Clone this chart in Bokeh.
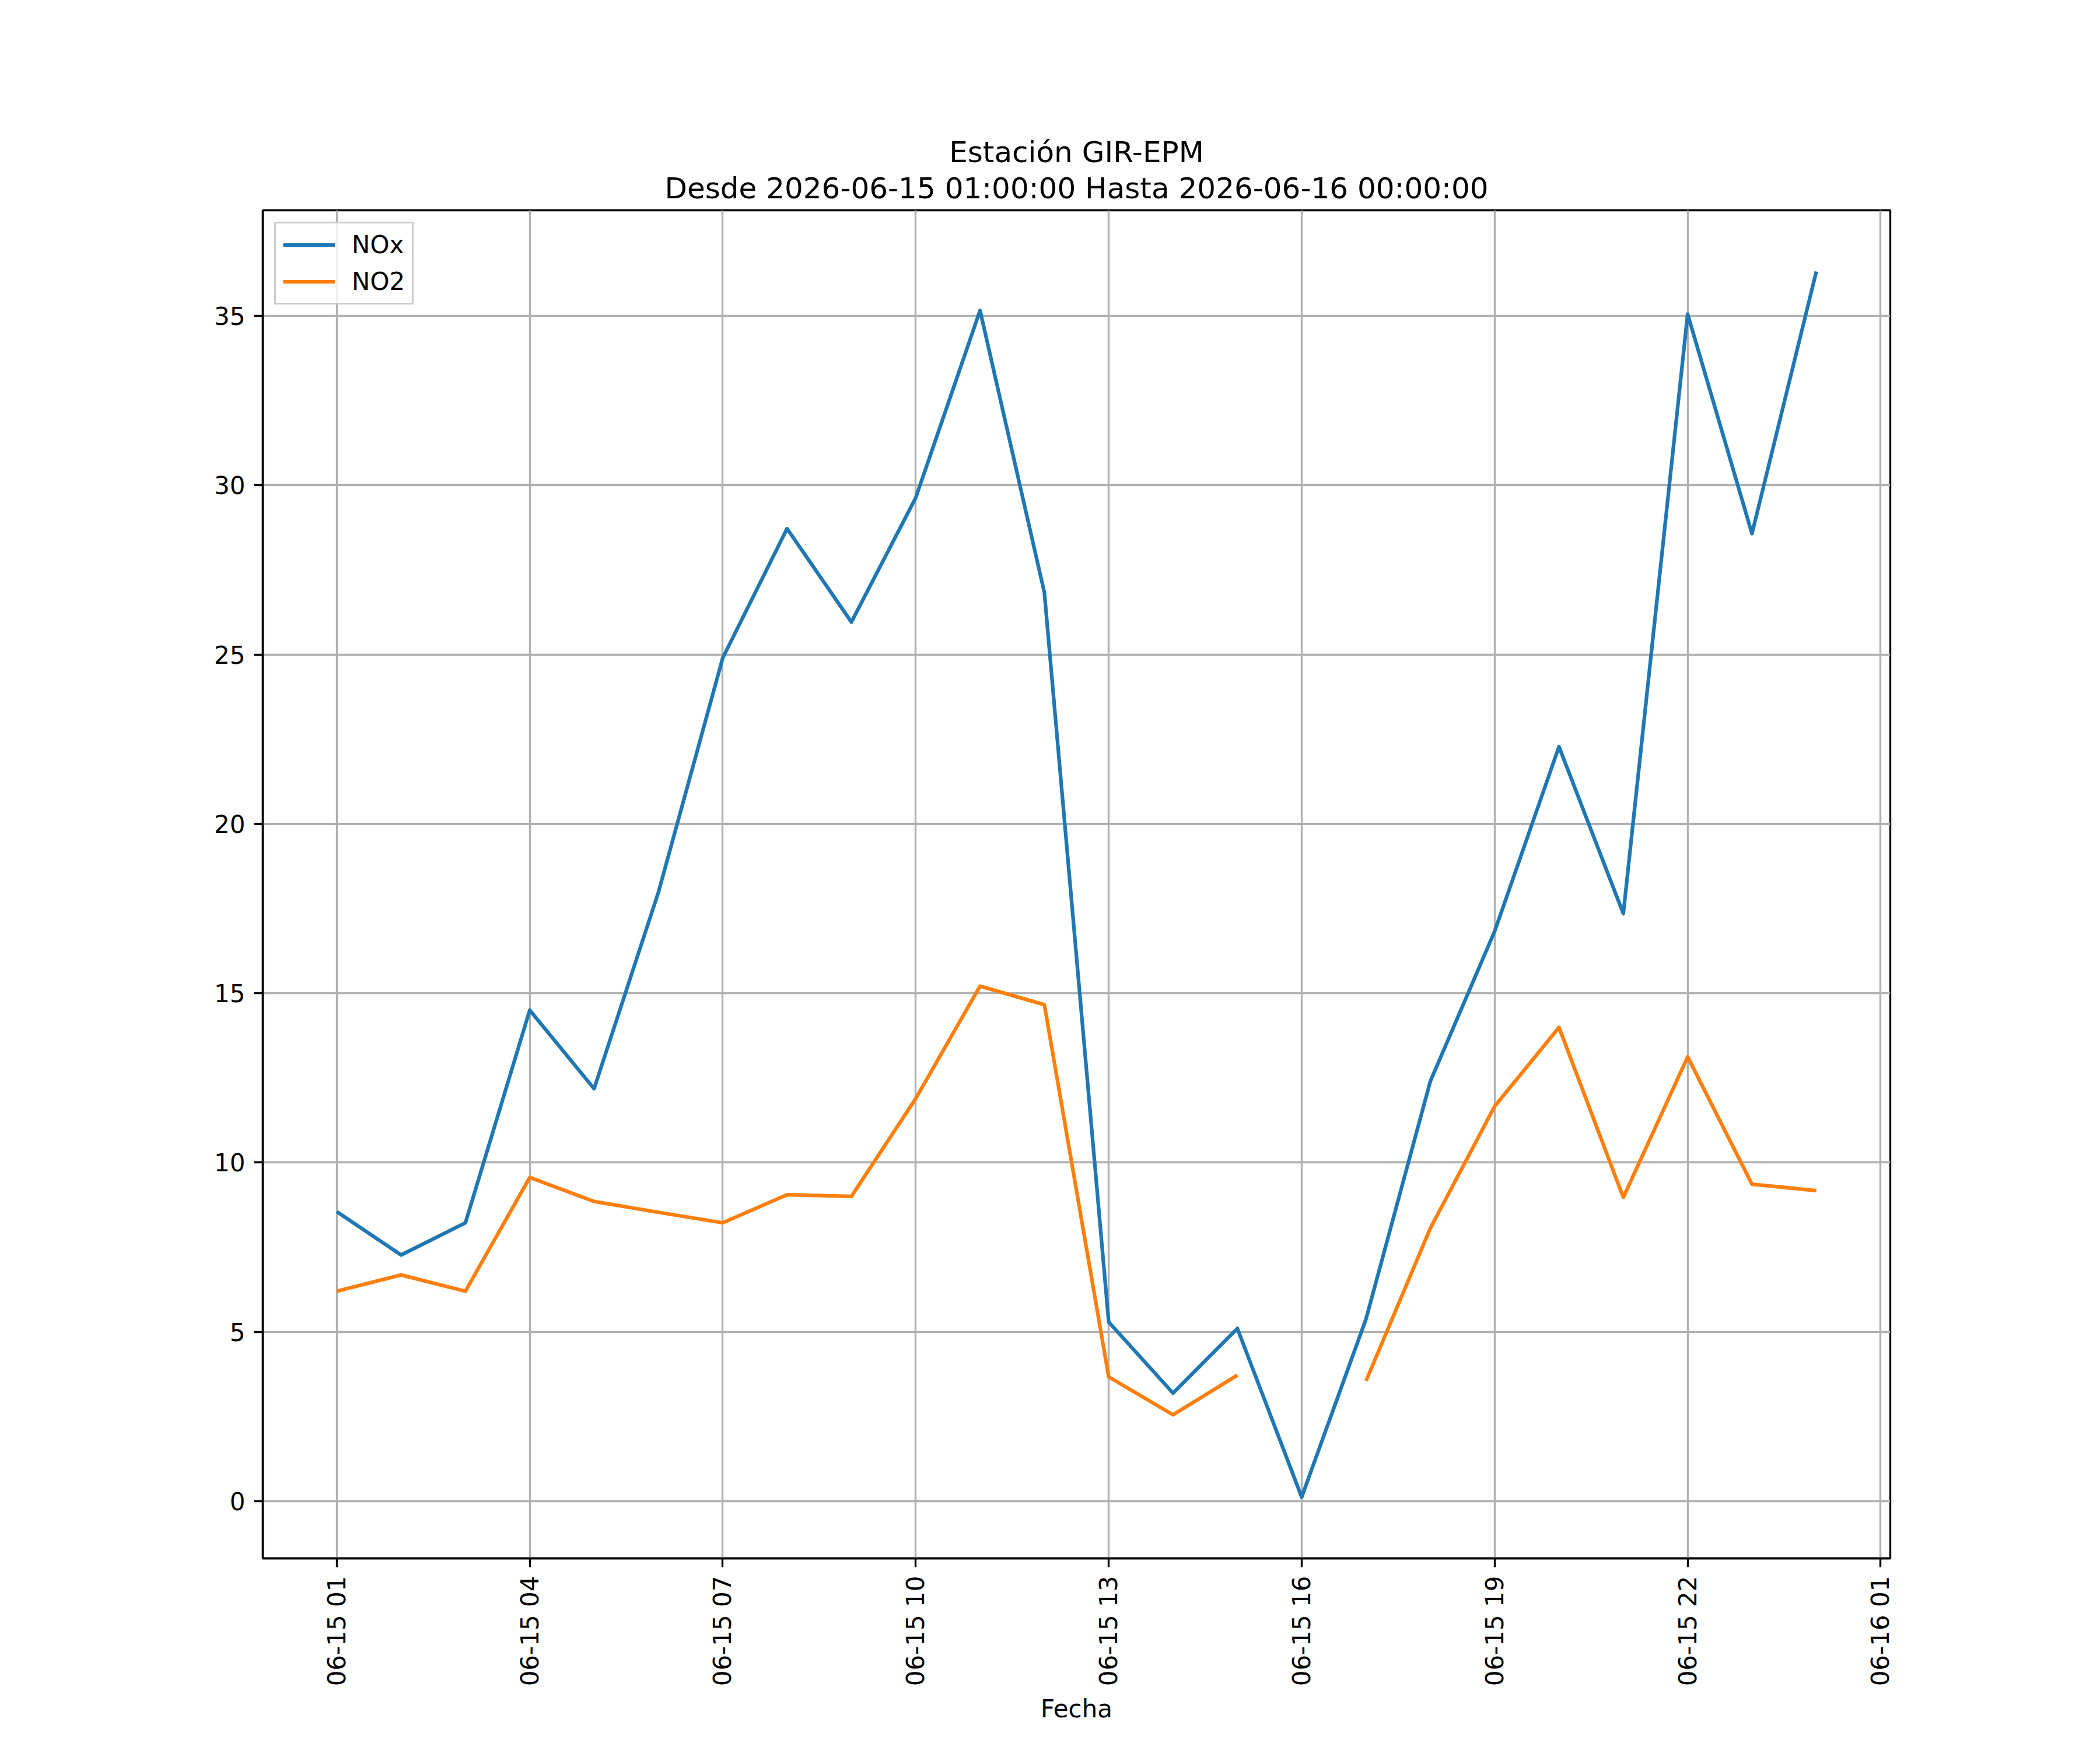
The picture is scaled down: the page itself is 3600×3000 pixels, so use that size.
import math
import numpy as np
import pandas as pd
from bokeh.plotting import figure
from bokeh.models import (Range1d, FixedTicker, DatetimeTickFormatter, Title,
                          Legend, LegendItem, ColumnDataSource)
from bokeh.embed import file_html
from bokeh.resources import INLINE

# ---- data ----
start_time = "2026-06-15 01:00:00"
hours = 24
nox = [8.55, 7.27, 8.22, 14.5, 12.18, 17.98, 24.9, 28.72, 25.96, 29.63,
       35.16, 26.83, 5.29, 3.19, 5.10, 0.12, 5.38, 12.4, 16.83, 22.28,
       17.35, 35.05, 28.57, 36.31]
no2 = [6.2, 6.68, 6.2, 9.56, 8.85, 8.53, 8.22, 9.05, 9.0, 11.89,
       15.21, 14.66, 3.67, 2.55, 3.72, np.nan, 3.55, 8.06, 11.66, 13.99,
       8.97, 13.12, 9.36, 9.17]
y_ticks = [0, 5, 10, 15, 20, 25, 30, 35]
title_line1 = "Estación GIR-EPM"
title_line2 = "Desde 2026-06-15 01:00:00 Hasta 2026-06-16 00:00:00"
x_label = "Fecha"
series_names = ["NOx", "NO2"]
series_colors = ["#1f77b4", "#ff7f0e"]

times = pd.date_range(start_time, periods=hours, freq="h")
x_tick_times = pd.date_range(start_time, periods=9, freq="3h")

FONT = "DejaVu Sans"
LW = 3.33

# ranges like matplotlib autoscale (5% margins)
t0 = times[0]
t1 = times[-1]
span_t = t1 - t0
x_start = t0 - span_t * 0.05
x_end = t1 + span_t * 0.05
allv = np.array(nox + [v for v in no2 if not np.isnan(v)])
vmin, vmax = allv.min(), allv.max()
vspan = vmax - vmin

p = figure(width=3584, height=2984, output_backend="svg", toolbar_location=None,
           x_axis_type="datetime", title=None,
           x_range=Range1d(x_start, x_end),
           y_range=Range1d(vmin - 0.05 * vspan, vmax + 0.05 * vspan),
           min_border_left=450, min_border_right=344,
           min_border_top=360, min_border_bottom=313)

p.background_fill_color = "white"
p.border_fill_color = "white"
p.outline_line_color = "black"
p.outline_line_width = LW
p.outline_line_alpha = 1.0

src = ColumnDataSource(dict(t=times, nox=nox, no2=no2))
r1 = p.line("t", "nox", source=src, line_color=series_colors[0], line_width=6.25,
            line_join="round")
r2 = p.line("t", "no2", source=src, line_color=series_colors[1], line_width=6.25,
            line_join="round")

# titles
p.add_layout(Title(text=title_line2, align="center", text_font=FONT,
                   text_font_size="50px", text_font_style="normal",
                   text_color="black", standoff=18), "above")
p.add_layout(Title(text=title_line1, align="center", text_font=FONT,
                   text_font_size="50px", text_font_style="normal",
                   text_color="black", standoff=-15), "above")

# axes
xa = p.xaxis[0]
xa.ticker = FixedTicker(ticks=[t.value // 10**6 for t in x_tick_times])
fmt = "%m-%d %H"
xa.formatter = DatetimeTickFormatter(hours=fmt, hourmin=fmt, days=fmt, minutes=fmt,
                                     minsec=fmt, months=fmt, years=fmt)
xa.major_label_orientation = math.pi / 2
xa.axis_label = x_label
xa.axis_label_text_font = FONT
xa.axis_label_text_font_size = "42px"
xa.axis_label_text_font_style = "normal"
xa.axis_label_text_color = "black"
xa.axis_label_standoff = 12

ya = p.yaxis[0]
ya.ticker = FixedTicker(ticks=y_ticks)

for ax in (xa, ya):
    ax.axis_line_width = LW
    ax.axis_line_color = "black"
    ax.major_tick_line_width = LW
    ax.major_tick_line_color = "black"
    ax.major_tick_out = 15
    ax.major_tick_in = 0
    ax.minor_tick_line_color = None
    ax.major_label_text_font = FONT
    ax.major_label_text_font_size = "42px"
    ax.major_label_text_color = "black"
    ax.major_label_standoff = 15

for g in (p.xgrid[0], p.ygrid[0]):
    g.grid_line_color = "#b0b0b0"
    g.grid_line_width = LW
    g.grid_line_alpha = 1.0

legend = Legend(items=[LegendItem(label=series_names[0], renderers=[r1]),
                       LegendItem(label=series_names[1], renderers=[r2])],
                location="top_left", margin=20, padding=12, spacing=14,
                glyph_width=89, glyph_height=49, label_height=49,
                label_standoff=29,
                label_text_font=FONT, label_text_font_size="42px",
                label_text_color="black",
                border_line_color="#cccccc", border_line_width=LW,
                border_line_alpha=1.0,
                background_fill_color="white", background_fill_alpha=0.8)
p.add_layout(legend, "center")

open("out.html", "w").write(file_html(p, INLINE))
